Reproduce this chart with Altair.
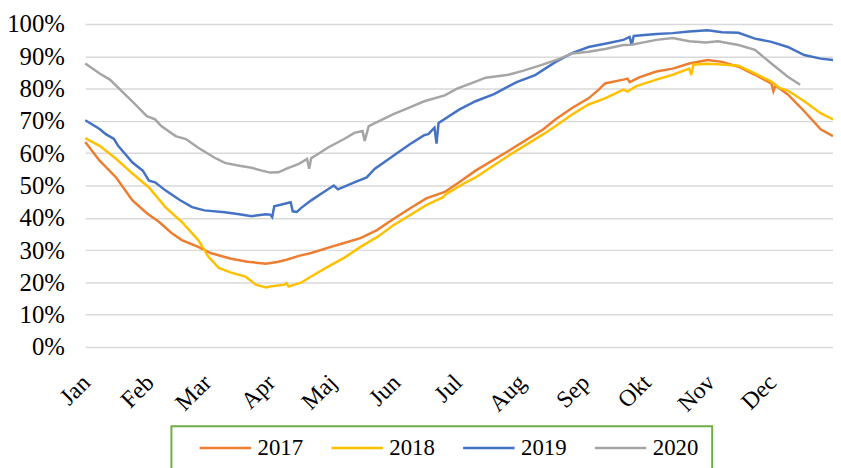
import altair as alt
import pandas as pd

months = ["Jan", "Feb", "Mar", "Apr", "Maj", "Jun", "Jul", "Aug", "Sep", "Okt", "Nov", "Dec"]
years = ["2017", "2018", "2019", "2020"]
colors = ["#ED7D31", "#FFC000", "#4472C4", "#A5A5A5"]

# day of year (0 = 1 Jan) and share in percent
days_2017 = [0, 7, 15, 23, 30, 36, 42, 47, 55, 61, 71, 79, 88, 94, 98, 104, 110, 118, 126, 134,
             142, 150, 158, 166, 175, 182, 190, 206, 223, 229, 237, 245, 250, 253, 262, 264, 265,
             270, 278, 286, 294, 303, 310, 318, 326, 334, 335, 336, 342, 350, 358, 364]
vals_2017 = [63.5, 57.7, 52.5, 45.4, 41.4, 38.7, 35.3, 33.1, 31.0, 29.1, 27.3, 26.4, 25.8, 26.4, 27.0,
             28.2, 29.1, 30.7, 32.2, 33.7, 36.2, 39.6, 42.9, 46.0, 48.0, 51.0, 54.6, 60.7, 67.4, 70.5,
             74.0, 77.0, 79.7, 81.6, 82.8, 83.1, 82.0, 83.6, 85.3, 86.2, 87.8, 88.9, 88.3, 86.8, 84.3,
             81.6, 79.2, 81.0, 78.2, 73.0, 67.4, 65.3]

days_2018 = [0, 7, 15, 23, 31, 39, 47, 55, 60, 65, 71, 78, 83, 88, 90, 97, 98, 99, 105, 110, 118,
             126, 134, 142, 150, 158, 166, 174, 176, 184, 190, 206, 223, 229, 237, 245, 253, 262,
             264, 268, 278, 286, 294, 295, 296, 303, 310, 318, 326, 334, 338, 342, 350, 358, 364]
vals_2018 = [64.7, 62.3, 58.3, 53.7, 49.4, 43.3, 38.7, 33.1, 27.9, 24.5, 23.0, 21.8, 19.3, 18.4, 18.7,
             19.3, 19.8, 18.7, 19.9, 21.8, 24.8, 27.6, 31.0, 34.0, 37.7, 40.8, 43.9, 46.3, 47.5, 50.5,
             52.5, 59.2, 65.9, 68.4, 72.0, 75.1, 77.0, 79.7, 79.1, 80.7, 82.8, 84.3, 86.2, 84.2, 87.4,
             87.7, 87.5, 87.1, 84.7, 82.2, 80.2, 79.4, 76.1, 72.4, 70.5]

days_2019 = [0, 7, 10, 14, 16, 23, 28, 31, 34, 39, 46, 52, 58, 68, 75, 81, 88, 90, 91, 92, 100,
             101, 103, 105, 110, 115, 121, 123, 131, 137, 141, 150, 158, 165, 167, 170, 171, 172,
             182, 190, 199, 206, 210, 219, 229, 237, 245, 253, 262, 265, 266, 267, 278, 286, 294,
             303, 310, 318, 326, 334, 342, 350, 358, 364]
vals_2019 = [70.2, 67.5, 65.9, 64.4, 62.3, 57.1, 54.6, 51.5, 51.0, 48.5, 45.5, 43.3, 42.3, 41.7, 41.1,
             40.5, 41.1, 41.0, 40.2, 43.6, 44.8, 42.0, 41.8, 43.0, 45.4, 47.5, 50.0, 48.8, 51.0, 52.5,
             55.2, 59.2, 62.8, 65.6, 65.9, 67.9, 63.0, 69.4, 73.5, 76.1, 78.3, 80.7, 82.0, 84.2, 88.3,
             91.0, 92.9, 93.9, 95.1, 96.0, 93.5, 96.3, 96.9, 97.2, 97.7, 98.1, 97.5, 97.3, 95.5, 94.5,
             92.9, 90.4, 89.3, 88.9]

days_2020 = [0, 7, 12, 18, 23, 30, 34, 37, 44, 49, 55, 63, 68, 75, 81, 86, 90, 94, 98, 104, 108,
             109, 110, 112, 118, 126, 131, 135, 136, 138, 146, 150, 158, 165, 175, 181, 190, 195,
             206, 213, 223, 231, 237, 245, 253, 262, 266, 278, 286, 294, 302, 308, 318, 326, 334,
             342, 348]
vals_2020 = [87.8, 84.7, 82.8, 79.1, 76.0, 71.5, 70.5, 68.4, 65.3, 64.4, 61.7, 58.6, 57.0, 56.1, 55.5,
             54.6, 54.0, 54.1, 55.2, 56.7, 58.2, 55.2, 58.5, 59.2, 61.7, 64.4, 66.3, 66.9, 63.8, 68.4,
             70.9, 72.1, 74.2, 76.1, 77.9, 80.0, 82.2, 83.4, 84.3, 85.5, 87.5, 89.3, 90.9, 91.4, 92.3,
             93.5, 93.6, 95.1, 95.7, 94.7, 94.3, 94.7, 93.5, 92.0, 87.8, 83.7, 81.2]

series = {
    "2017": (days_2017, vals_2017),
    "2018": (days_2018, vals_2018),
    "2019": (days_2019, vals_2019),
    "2020": (days_2020, vals_2020),
}

rows = []
base = pd.Timestamp("2021-01-01")
for yr, (ds, vs) in series.items():
    for d, v in zip(ds, vs):
        rows.append({"date": base + pd.Timedelta(days=d), "value": v / 100.0, "year": yr})
df = pd.DataFrame(rows)

label_expr = "[" + ",".join("'" + m + "'" for m in months) + "][month(datum.value)]"
font = "Liberation Serif, Times New Roman, DejaVu Serif, serif"
fsize = 25

chart = alt.Chart(df).mark_line(strokeWidth=2.5).encode(
    x=alt.X(
        "date:T",
        scale=alt.Scale(domain=[alt.DateTime(year=2021, month=1, date=1),
                                alt.DateTime(year=2021, month=12, date=31)]),
        axis=alt.Axis(
            title=None,
            values=[alt.DateTime(year=2021, month=m, date=1) for m in range(1, 13)],
            labelExpr=label_expr,
            labelAngle=315,
            labelAlign="right",
            labelBaseline="middle",
            labelPadding=32,
            labelOffset=1,
            ticks=False,
            tickSize=0,
            domain=False,
            grid=False,
            labelFont=font,
            labelFontSize=fsize - 1,
            labelColor="#000000",
            labelOverlap=False,
        ),
    ),
    y=alt.Y(
        "value:Q",
        scale=alt.Scale(domain=[0, 1]),
        axis=alt.Axis(
            title=None,
            format=".0%",
            values=[i / 10 for i in range(11)],
            ticks=False,
            tickSize=0,
            domain=False,
            grid=True,
            gridColor="#D9D9D9",
            gridWidth=1.5,
            labelPadding=21,
            labelFont=font,
            labelFontSize=fsize,
            labelColor="#000000",
        ),
    ),
    color=alt.Color(
        "year:N",
        scale=alt.Scale(domain=years, range=colors),
        legend=alt.Legend(
            title=None,
            orient="none",
            legendX=87,
            legendY=406,
            direction="horizontal",
            symbolType="stroke",
            symbolSize=2700,
            symbolStrokeWidth=2.5,
            labelFont=font,
            labelFontSize=23,
            labelColor="#000000",
            labelOffset=5,
            columnPadding=14,
            padding=14,
            clipHeight=16,
            symbolOffset=13,
            strokeColor="#70AD47",
        ),
    ),
).properties(
    width=755,
    height=326,
    autosize=alt.AutoSizeParams(type="none"),
    padding={"left": 78, "top": 14, "right": 0, "bottom": 120},
).configure(font=font).configure_view(stroke=None).configure_legend(strokeWidth=2)

chart.save("out.html", embed_options={"renderer": "svg", "actions": False})
